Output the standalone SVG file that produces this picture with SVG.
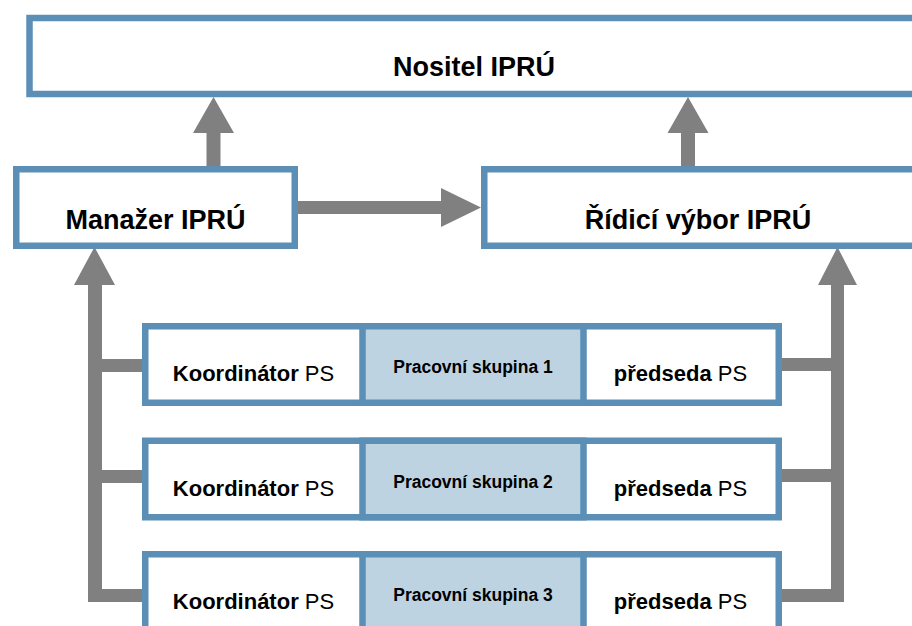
<svg xmlns="http://www.w3.org/2000/svg" width="912" height="626" viewBox="0 0 912 626">
<style>
.box{fill:#fff;stroke:#5B8FB6;stroke-width:6.5}
.mid{fill:#BDD3E2;stroke:#5B8FB6;stroke-width:6.5}
.big{font-family:"Liberation Sans",Arial,sans-serif;font-weight:bold;font-size:27px;fill:#000;text-anchor:middle}
.ps{font-family:"Liberation Sans",Arial,sans-serif;font-size:22px;fill:#000;text-anchor:middle}
.ps .b{font-weight:bold}
.grp{font-family:"Liberation Sans",Arial,sans-serif;font-weight:bold;font-size:17.5px;fill:#000;text-anchor:middle}
.arr{fill:#808080}
</style>
<rect width="912" height="626" fill="#fff"/>
<g id="connectors">
<path class="arr" d="M206.5,166 V133 H193 L213.5,97 L234,133 H220.5 V166 Z"/>
<path class="arr" d="M681,166 V133 H667.5 L688,97 L708.5,133 H695 V166 Z"/>
<path class="arr" d="M298,201 H441 V188 L481,207.5 L441,227 V214 H298 Z"/>
<path class="arr" d="M88,602 V285 H74 L94.5,247 L115,285 H102 V359 H143 V372 H102 V470 H143 V483 H102 V589 H143 V602 Z"/>
<path class="arr" d="M844,602 V285 H857 L837.5,247 L818,285 H831 V358 H782 V371 H831 V469 H782 V482 H831 V589 H782 V602 Z"/>
</g>
<g id="nositel">
<rect class="box" x="29.5" y="18" width="900" height="76"/>
<text class="big" x="474" y="76">Nositel IPRÚ</text>
</g>
<g id="manazer">
<rect class="box" x="16.25" y="169.25" width="278.5" height="76.5"/>
<text class="big" x="155.5" y="229">Manažer IPRÚ</text>
</g>
<g id="ridici">
<rect class="box" x="484.25" y="169.25" width="440" height="76.5"/>
<text class="big" x="698" y="229">Řídicí výbor IPRÚ</text>
</g>
<g id="ps1">
<rect class="box" x="145.25" y="326.25" width="633.5" height="76.5"/>
<rect class="mid" x="362.5" y="326.25" width="221" height="76.5"/>
<text class="ps" x="253.5" y="381"><tspan class="b">Koordinátor</tspan> PS</text>
<text class="grp" x="473" y="373">Pracovní skupina 1</text>
<text class="ps" x="680.5" y="381"><tspan class="b">předseda</tspan> PS</text>
</g>
<g id="ps2">
<rect class="box" x="145.25" y="440.75" width="633.5" height="76.5"/>
<rect class="mid" x="362.5" y="440.75" width="221" height="76.5"/>
<text class="ps" x="253.5" y="496"><tspan class="b">Koordinátor</tspan> PS</text>
<text class="grp" x="473" y="488">Pracovní skupina 2</text>
<text class="ps" x="680.5" y="496"><tspan class="b">předseda</tspan> PS</text>
</g>
<g id="ps3">
<rect class="box" x="145.25" y="554.25" width="633.5" height="76.5"/>
<rect class="mid" x="362.5" y="554.25" width="221" height="76.5"/>
<text class="ps" x="253.5" y="609"><tspan class="b">Koordinátor</tspan> PS</text>
<text class="grp" x="473" y="601">Pracovní skupina 3</text>
<text class="ps" x="680.5" y="609"><tspan class="b">předseda</tspan> PS</text>
</g>
</svg>
